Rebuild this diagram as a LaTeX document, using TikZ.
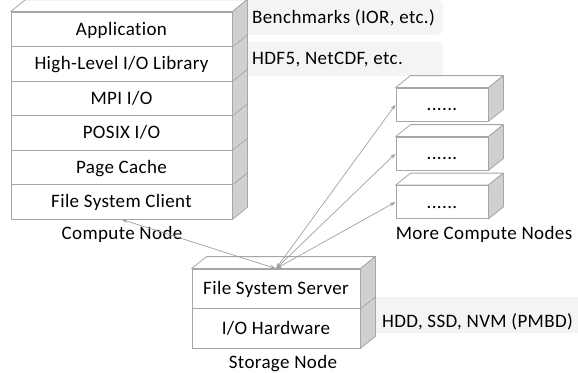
\documentclass[tikz,border=0pt]{standalone}
\usepackage{fontspec}
\setmainfont{Carlito}[Ligatures=NoCommon,LetterSpace=2.0]
\usetikzlibrary{arrows.meta,calc}
\definecolor{edgegray}{HTML}{A6A6A6}
\definecolor{sidegray}{HTML}{D0D0D0}
\definecolor{notegray}{HTML}{F3F4F6}
\definecolor{arrgray}{HTML}{A0A0A0}
\tikzset{
  rowbox/.style={draw=edgegray, fill=white, line width=0.8pt, inner sep=0pt,
    text height=12pt, text depth=0pt, font=\fontsize{19}{22}\selectfont},
  lbl/.style={inner sep=0pt, text height=12pt, text depth=0pt, font=\fontsize{19}{22}\selectfont},
  topface/.style={draw=edgegray, fill=white, line width=0.8pt, line join=round},
  sideface/.style={draw=edgegray, fill=sidegray, line width=0.8pt, line join=round},
  divline/.style={draw=edgegray, line width=0.8pt},
  link/.style={draw=arrgray, line width=0.7pt,
    {Stealth[length=6pt,width=4pt]}-{Stealth[length=6pt,width=4pt]}},
  notebg/.style={fill=notegray, rounded corners=6pt}
}
\newcommand\cubetop[1]{%
  \path[topface] (#1.north west) -- ++(15,-12) -- ($(#1.north east)+(15,-12)$) -- (#1.north east) -- cycle;}
\newcommand\cubeside[2]{%
  \path[sideface] (#1.north east) -- ++(15,-12) -- ($(#2.south east)+(15,-12)$) -- (#2.south east) -- cycle;}
\begin{document}
\begin{tikzpicture}[x=1pt,y=-1pt]
\useasboundingbox (0,0) rectangle (578,372);
% annotation backgrounds
\path[notebg] (240,0) rectangle (443,35);
\path[notebg] (240,42) rectangle (443,76);
\path[notebg] (368,297) rectangle (584,333);
% compute node
\node[rowbox, minimum width=221pt, minimum height=34.5pt] (app) at (121.5,29.25) {Application};
\node[rowbox, minimum width=221pt, minimum height=34.5pt] (hll) at (121.5,63.75) {High-Level I/O Library};
\node[rowbox, minimum width=221pt, minimum height=34.5pt] (mpi) at (121.5,98.25) {MPI I/O};
\node[rowbox, minimum width=221pt, minimum height=34.5pt] (posix) at (121.5,132.75) {POSIX I/O};
\node[rowbox, minimum width=221pt, minimum height=34.5pt] (cache) at (121.5,167.25) {Page Cache};
\node[rowbox, minimum width=221pt, minimum height=34.5pt] (fsc) at (121.5,201.75) {File System Client};
\cubetop{app}
\cubeside{app}{fsc}
\foreach \n in {app,hll,mpi,posix,cache} \draw[divline] (\n.south east) -- ++(15,-12);
\node[lbl] (cnlabel) at (122,233) {Compute Node};
% more compute nodes
\node[rowbox, minimum width=92pt, minimum height=33pt] (m1) at (442,104.5) {......};
\node[rowbox, minimum width=92pt, minimum height=33pt] (m2) at (442,153.5) {......};
\node[rowbox, minimum width=92pt, minimum height=33pt] (m3) at (442,202) {......};
\foreach \n in {m1,m2,m3} {\cubetop{\n}\cubeside{\n}{\n}}
\node[lbl] (mlabel) at (484,233.5) {More Compute Nodes};
% storage node
\node[rowbox, minimum width=168pt, minimum height=39.5pt] (fss) at (276,288.75) {File System Server};
\node[rowbox, minimum width=168pt, minimum height=39.5pt] (ioh) at (276,328.25) {I/O Hardware};
\cubetop{fss}
\cubeside{fss}{ioh}
\draw[divline] (fss.south east) -- ++(15,-12);
\node[lbl] (slabel) at (283,362.5) {Storage Node};
% annotations
\node[lbl, anchor=base west] (bench) at (252,23.5) {Benchmarks (IOR, etc.)};
\node[lbl, anchor=base west] (hdf) at (252,64) {HDF5, NetCDF, etc.};
\node[lbl, anchor=base west] (hdd) at (382,327) {HDD, SSD, NVM (PMBD)};
% connectors
\draw[link] (fss.north) -- (fsc.south);
\draw[link] (fss.north) -- (m1.west);
\draw[link] (fss.north) -- (m2.west);
\draw[link] (fss.north) -- (m3.west);
\end{tikzpicture}
\end{document}
